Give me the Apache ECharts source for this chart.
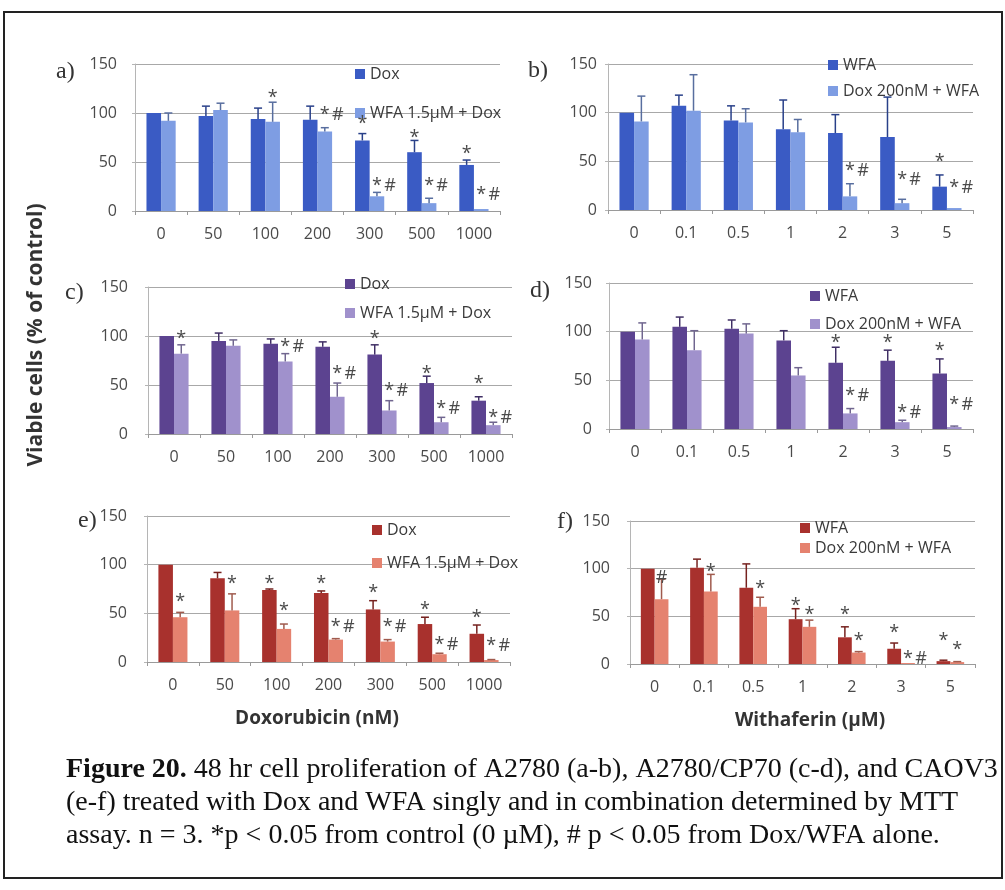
<!DOCTYPE html>
<html>
<head>
<meta charset="utf-8">
<script src="https://cdn.jsdelivr.net/npm/echarts@6/dist/echarts.min.js"></script>
<style>
  html, body { margin: 0; padding: 0; background: #fff; }
  #main { width: 1005px; height: 890px; }
</style>
</head>
<body>
<div id="main"></div>
<script>
// category labels
const doseDox = ['0', '50', '100', '200', '300', '500', '1000'];
const doseWfa = ['0', '0.1', '0.5', '1', '2', '3', '5'];

// a) A2780, Dox titration
const aDox = [100, 97, 94, 93, 72, 60, 47];
const aDoxErr = [0, 10, 11, 14, 7, 12, 5];
const aCombo = [92, 103, 91, 81, 15, 8, 2];
const aComboErr = [8, 7, 20, 4, 4, 5, 0];
// [category, bar (0 dark / 1 light), y, text]
const aMarks = [[2, 1, 120, '*'], [3, 1, 102, '* #'], [4, 0, 93, '*'], [4, 1, 30, '* #'],
  [5, 0, 79, '*'], [5, 1, 30, '* #'], [6, 0, 62, '*'], [6, 1, 21, '* #']];

// b) A2780, WFA titration
const bWfa = [100, 107, 92, 83, 79, 75, 24];
const bWfaErr = [0, 11, 15, 30, 19, 41, 12];
const bCombo = [91, 102, 90, 80, 14, 7, 2];
const bComboErr = [26, 37, 14, 13, 13, 4, 0];
const bMarks = [[4, 1, 44, '* #'], [5, 1, 35, '* #'], [6, 0, 54, '*'], [6, 1, 27, '* #']];

// c) A2780/CP70, Dox titration
const cDox = [100, 95, 92, 89, 81, 52, 34];
const cDoxErr = [0, 8, 5, 5, 10, 7, 4];
const cCombo = [82, 90, 74, 38, 24, 12, 9];
const cComboErr = [9, 6, 8, 14, 10, 5, 3];
const cMarks = [[0, 1, 101, '*'], [2, 1, 93, '* #'], [3, 1, 65, '* #'], [4, 0, 101, '*'],
  [4, 1, 48, '* #'], [5, 0, 65, '*'], [5, 1, 30, '* #'], [6, 0, 55, '*'], [6, 1, 21, '* #']];

// d) A2780/CP70, WFA titration
const dWfa = [100, 105, 103, 91, 68, 70, 57];
const dWfaErr = [0, 10, 9, 10, 16, 11, 15];
const dCombo = [92, 81, 98, 55, 16, 7, 2];
const dComboErr = [17, 20, 10, 8, 5, 2, 1];
const dMarks = [[4, 0, 93, '*'], [4, 1, 38, '* #'], [5, 0, 93, '*'], [5, 1, 21, '* #'],
  [6, 0, 84, '*'], [6, 1, 29, '* #']];

// e) CAOV3, Dox titration
const eDox = [100, 86, 74, 71, 54, 39, 29];
const eDoxErr = [0, 6, 1, 2, 9, 7, 9];
const eCombo = [46, 53, 34, 23, 21, 8, 2];
const eComboErr = [5, 17, 5, 1, 2, 1, 0.5];
const eMarks = [[0, 1, 66, '*'], [1, 1, 84, '*'], [2, 0, 84, '*'], [2, 1, 57, '*'], [3, 0, 84, '*'],
  [3, 1, 40, '* #'], [4, 0, 75, '*'], [4, 1, 40, '* #'], [5, 0, 58, '*'], [5, 1, 22, '* #'],
  [6, 0, 49, '*'], [6, 1, 21, '* #']];

// f) CAOV3, WFA titration
const fWfa = [100, 101, 80, 47, 28, 16, 3];
const fWfaErr = [0, 9, 25, 11, 11, 6, 1];
const fCombo = [68, 76, 60, 39, 12, 1, 2];
const fComboErr = [21, 18, 10, 7, 1, 0, 0.5];
const fMarks = [[0, 1, 95, '#'], [1, 1, 101, '*'], [2, 1, 83, '*'], [3, 0, 65, '*'], [3, 1, 56, '*'],
  [4, 0, 56, '*'], [4, 1, 28, '*'], [5, 0, 37, '*'], [5, 1, 10, '* #'], [6, 0, 28, '*'], [6, 1, 19, '*']];

const yTicks = [0, 50, 100, 150];

const namesDox = ['Dox', 'WFA 1.5µM + Dox'];
const namesWfa = ['WFA', 'Dox 200nM + WFA'];

const blue = ['#3a5bc4', '#7e9de3'];
const purple = ['#5c4390', '#a091cc'];
const red = ['#a8312d', '#e5826f'];

const BAR = 0.28;
const FONT = 'Open Sans';

const panels = [
  { tag: 'a)', cats: doseDox, names: namesDox, vals: [aDox, aCombo], errs: [aDoxErr, aComboErr], marks: aMarks, colors: blue,
    grid: { left: 135, top: 64, width: 365, height: 147 }, legend: { left: 355, top: 66, gap: 23 }, tagAt: [56, 72], yMargin: 18 },
  { tag: 'b)', cats: doseWfa, names: namesWfa, vals: [bWfa, bCombo], errs: [bWfaErr, bComboErr], marks: bMarks, colors: blue,
    grid: { left: 608, top: 64, width: 365, height: 146 }, legend: { left: 828, top: 57, gap: 10 }, tagAt: [528, 71], yMargin: 11 },
  { tag: 'c)', cats: doseDox, names: namesDox, vals: [cDox, cCombo], errs: [cDoxErr, cComboErr], marks: cMarks, colors: purple,
    grid: { left: 148, top: 287, width: 364, height: 147 }, legend: { left: 345, top: 276, gap: 13 }, tagAt: [65, 293], yMargin: 20 },
  { tag: 'd)', cats: doseWfa, names: namesWfa, vals: [dWfa, dCombo], errs: [dWfaErr, dComboErr], marks: dMarks, colors: purple,
    grid: { left: 609, top: 283, width: 364, height: 146 }, legend: { left: 810, top: 288, gap: 12 }, tagAt: [530, 291], yMargin: 17 },
  { tag: 'e)', cats: doseDox, names: namesDox, vals: [eDox, eCombo], errs: [eDoxErr, eComboErr], marks: eMarks, colors: red,
    grid: { left: 147, top: 516, width: 363, height: 146 }, legend: { left: 372, top: 522, gap: 17 }, tagAt: [78, 521], yMargin: 20 },
  { tag: 'f)', cats: doseWfa, names: namesWfa, vals: [fWfa, fCombo], errs: [fWfaErr, fComboErr], marks: fMarks, colors: red,
    grid: { left: 630, top: 521, width: 345, height: 143 }, legend: { left: 800, top: 520, gap: 4 }, tagAt: [557, 522], yMargin: 20 }
];

function darker(hex, f) {
  const n = parseInt(hex.slice(1), 16);
  const r = Math.round(((n >> 16) & 255) * f), g = Math.round(((n >> 8) & 255) * f), b = Math.round((n & 255) * f);
  return 'rgb(' + r + ',' + g + ',' + b + ')';
}

const series = [];
panels.forEach((p, k) => {
  [0, 1].forEach(s => {
    series.push({
      type: 'bar', name: p.names[s], xAxisIndex: k, yAxisIndex: k,
      data: p.vals[s], barWidth: (BAR * 100) + '%', barGap: '0%',
      itemStyle: { color: p.colors[s] }, silent: true
    });
  });
  // error bars (upper only, like the original)
  [0, 1].forEach(s => {
    const stroke = darker(p.colors[s], 0.7);
    series.push({
      type: 'custom', xAxisIndex: k, yAxisIndex: k, z: 4, silent: true,
      data: p.vals[s].map((v, i) => [i, v, p.errs[s][i]]),
      encode: { x: 0, y: 1 },
      renderItem: (params, api) => {
        const e = api.value(2);
        if (!e) return null;
        const i = api.value(0), v = api.value(1);
        const band = api.size([1, 0])[0];
        const base = api.coord([i, v]);
        const top = api.coord([i, v + e]);
        const x = base[0] + (s === 0 ? -1 : 1) * band * BAR / 2;
        const st = { stroke: stroke, lineWidth: 1.5 };
        return { type: 'group', children: [
          { type: 'line', shape: { x1: x, y1: base[1], x2: x, y2: top[1] }, style: st },
          { type: 'line', shape: { x1: x - 4, y1: top[1], x2: x + 4, y2: top[1] }, style: st }
        ] };
      }
    });
  });
  // significance marks
  series.push({
    type: 'custom', xAxisIndex: k, yAxisIndex: k, z: 5, silent: true,
    data: p.marks.map(m => [m[0], m[2]]),
    encode: { x: 0, y: 1 },
    renderItem: (params, api) => {
      const m = p.marks[params.dataIndex];
      const band = api.size([1, 0])[0];
      const pt = api.coord([api.value(0), api.value(1)]);
      const x = pt[0] + (m[1] === 0 ? -1 : 1) * band * BAR / 2;
      const y = pt[1] + 4;
      const kids = [];
      const mk = (t, tx) => ({ type: 'text', x: tx, y: y,
        style: { text: t, fill: '#4a4a4a', font: '18px "' + FONT + '"', align: 'center', verticalAlign: 'middle' } });
      if (m[3].indexOf('*') >= 0) kids.push(mk('*', x));
      if (m[3].indexOf('#') >= 0) kids.push(mk('#', m[3] === '#' ? x : x + 13));
      return { type: 'group', children: kids };
    }
  });
});

const option = {
  animation: false,
  backgroundColor: '#fff',
  grid: panels.map(p => Object.assign({ containLabel: false }, p.grid)),
  xAxis: panels.map((p, k) => ({
    type: 'category', gridIndex: k, data: p.cats,
    axisLine: { lineStyle: { color: '#9a9a9a', width: 1 } },
    axisTick: { show: true, length: 4, lineStyle: { color: '#9a9a9a' } },
    axisLabel: { interval: 0, margin: 15, fontSize: 16, color: '#4a4a4a', fontFamily: FONT },
    splitLine: { show: false }
  })),
  yAxis: panels.map((p, k) => ({
    type: 'value', gridIndex: k, min: yTicks[0], max: yTicks[yTicks.length - 1], interval: yTicks[1] - yTicks[0],
    axisLine: { show: true, lineStyle: { color: '#b5b5b5' } },
    axisTick: { show: true, length: 3, lineStyle: { color: '#b5b5b5' } },
    axisLabel: { margin: p.yMargin, fontSize: 16, color: '#4a4a4a', fontFamily: FONT },
    splitLine: { show: true, lineStyle: { color: '#a8a8a8', width: 1 } }
  })),
  legend: panels.map(p => ({
    left: p.legend.left, top: p.legend.top, orient: 'vertical', icon: 'rect',
    itemWidth: 10, itemHeight: 10, itemGap: p.legend.gap, padding: 0, selectedMode: false,
    textStyle: { fontSize: 16, color: '#3a3a3a', fontFamily: FONT },
    data: p.names.map((n, s) => ({ name: n, itemStyle: { color: p.colors[s] } }))
  })),
  series: series,
  graphic: [
    { type: 'rect', silent: true, shape: { x: 4, y: 12, width: 998, height: 866 },
      style: { fill: 'none', stroke: '#222', lineWidth: 2 } },
    ...panels.map(p => ({ type: 'text', x: p.tagAt[0], y: p.tagAt[1], silent: true,
      style: { text: p.tag, fill: '#333', font: '24px "Liberation Serif"', verticalAlign: 'middle' } })),
    { type: 'text', x: 36, y: 335, rotation: Math.PI / 2, silent: true,
      style: { text: 'Viable cells (% of control)', fill: '#333', font: 'bold 21px "' + FONT + '"', align: 'center', verticalAlign: 'middle' } },
    { type: 'text', x: 317, y: 719, silent: true,
      style: { text: 'Doxorubicin (nM)', fill: '#333', font: 'bold 19px "' + FONT + '"', align: 'center', verticalAlign: 'middle' } },
    { type: 'text', x: 810, y: 721, silent: true,
      style: { text: 'Withaferin (µM)', fill: '#333', font: 'bold 19px "' + FONT + '"', align: 'center', verticalAlign: 'middle' } },
    { type: 'text', x: 66, y: 770, silent: true,
      style: { text: '{b|Figure 20.} 48 hr cell proliferation of A2780 (a-b), A2780/CP70 (c-d), and CAOV3',
        fill: '#111', font: '28px "Liberation Serif"', verticalAlign: 'middle',
        rich: { b: { fontWeight: 'bold', fontSize: 28, fontFamily: 'Liberation Serif', fill: '#111' } } } },
    { type: 'text', x: 66, y: 803, silent: true,
      style: { text: '(e-f) treated with Dox and WFA singly and in combination determined by MTT',
        fill: '#111', font: '28px "Liberation Serif"', verticalAlign: 'middle' } },
    { type: 'text', x: 66, y: 836, silent: true,
      style: { text: 'assay. n = 3. *p < 0.05 from control (0 µM), # p < 0.05 from Dox/WFA alone.',
        fill: '#111', font: '28px "Liberation Serif"', verticalAlign: 'middle' } }
  ]
};

const chart = echarts.init(document.getElementById('main'));
chart.setOption(option);
window.addEventListener('resize', () => chart.resize());
</script>
</body>
</html>
